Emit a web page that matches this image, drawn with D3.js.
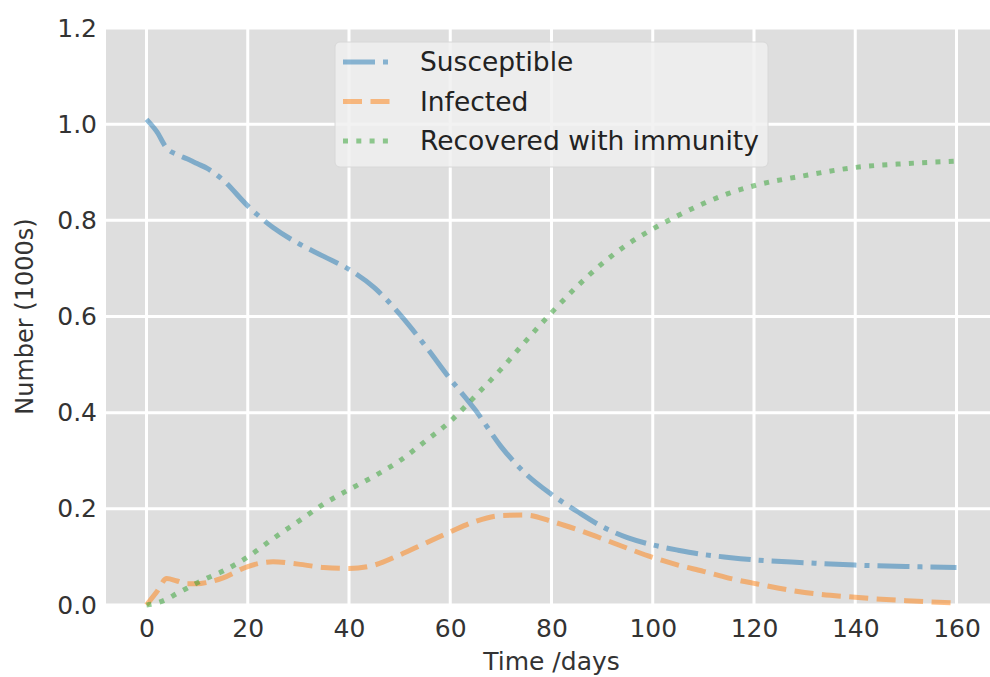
<!DOCTYPE html>
<html>
<head>
<meta charset="utf-8">
<script src="https://cdn.jsdelivr.net/npm/d3@7"></script>
<style>
  body { margin: 0; background: #fff; }
  svg { display: block; font-family: "DejaVu Sans", sans-serif; }
</style>
</head>
<body>
<svg id="chart" width="990" height="677"></svg>
<script>
// days
const days = [0, 2, 4, 6, 8, 10, 12, 15, 20, 25, 30, 35, 40, 45, 50, 55, 60, 65, 70, 75,
  80, 85, 90, 95, 100, 105, 110, 115, 120, 130, 140, 150, 160];

const susceptible = [1.01, 0.985, 0.95, 0.937, 0.928, 0.918, 0.908, 0.885, 0.83, 0.785, 0.752, 0.725,
  0.698, 0.66, 0.605, 0.54, 0.47, 0.405, 0.33, 0.272, 0.23, 0.195, 0.163, 0.14, 0.125, 0.114,
  0.105, 0.099, 0.094, 0.088, 0.083, 0.08, 0.078];

const infected = [0, 0.027, 0.055, 0.05, 0.044, 0.044, 0.047, 0.056, 0.08, 0.09, 0.085, 0.078,
  0.076, 0.083, 0.104, 0.128, 0.152, 0.174, 0.186, 0.187, 0.174, 0.157, 0.138, 0.118, 0.099,
  0.083, 0.07, 0.056, 0.045, 0.026, 0.016, 0.009, 0.004];

const recovered = [0, 0.004, 0.012, 0.024, 0.035, 0.046, 0.056, 0.07, 0.1, 0.138, 0.174, 0.21,
  0.24, 0.268, 0.3, 0.34, 0.382, 0.435, 0.49, 0.55, 0.608, 0.662, 0.71, 0.75, 0.782, 0.81,
  0.835, 0.856, 0.872, 0.893, 0.91, 0.918, 0.923];

const seriesNames = ['Susceptible', 'Infected', 'Recovered with immunity'];
const xTicks = [0, 20, 40, 60, 80, 100, 120, 140, 160];
const yTicks = [0, 0.2, 0.4, 0.6, 0.8, 1.0, 1.2];

const svg = d3.select('#chart'),
  width = +svg.attr('width'),
  height = +svg.attr('height');

const margin = {left: 106, top: 28, bottom: 72};
const plotRight = 997;   // axes run past the right edge of the picture
const plotBottom = height - margin.bottom;

const x = d3.scaleLinear().domain([-8, 168]).range([margin.left, plotRight]);
const y = d3.scaleLinear().domain([0, 1.2]).range([plotBottom, margin.top]);

svg.append('rect')
  .attr('x', margin.left).attr('y', margin.top)
  .attr('width', plotRight - margin.left).attr('height', plotBottom - margin.top)
  .attr('fill', '#dedede');

// white grid
const grid = svg.append('g').attr('class', 'grid');
grid.selectAll('line.v').data(xTicks).enter().append('line')
  .attr('x1', d => x(d)).attr('x2', d => x(d))
  .attr('y1', margin.top).attr('y2', plotBottom)
  .attr('stroke', '#fff').attr('stroke-width', 3);
grid.selectAll('line.h').data(yTicks).enter().append('line')
  .attr('x1', margin.left).attr('x2', plotRight)
  .attr('y1', d => y(d)).attr('y2', d => y(d))
  .attr('stroke', '#fff').attr('stroke-width', 3);

// tick labels via d3 axes, domain & tick lines hidden
const xAxis = svg.append('g')
  .attr('transform', `translate(0,${plotBottom})`)
  .call(d3.axisBottom(x).tickValues(xTicks).tickSize(0).tickPadding(14).tickFormat(d3.format('d')));
const yAxis = svg.append('g')
  .attr('transform', `translate(${margin.left},0)`)
  .call(d3.axisLeft(y).tickValues(yTicks).tickSize(0).tickPadding(9).tickFormat(d3.format('.1f')));
[xAxis, yAxis].forEach(a => {
  a.select('.domain').remove();
  a.selectAll('text').attr('font-size', 25).attr('fill', '#333')
    .attr('font-family', '"DejaVu Sans", sans-serif');
});

svg.append('text')
  .attr('x', (margin.left + plotRight) / 2).attr('y', 670)
  .attr('text-anchor', 'middle').attr('font-size', 25).attr('fill', '#333')
  .text('Time /days');
svg.append('text')
  .attr('transform', `translate(33,${(margin.top + plotBottom) / 2}) rotate(-90)`)
  .attr('text-anchor', 'middle').attr('font-size', 24).attr('fill', '#333')
  .text('Number (1000s)');

const styles = [
  {color: '#1f77b4', dash: '32,8,5,8'},
  {color: '#ff7f0e', dash: '19,8.5'},
  {color: '#2ca02c', dash: '5,8.3'}
];
const allSeries = [susceptible, infected, recovered];

const line = d3.line()
  .x((d, i) => x(days[i]))
  .y(d => y(d))
  .curve(d3.curveMonotoneX);

svg.append('g').selectAll('path')
  .data(allSeries).enter().append('path')
  .attr('d', line)
  .attr('fill', 'none')
  .attr('stroke', (d, i) => styles[i].color)
  .attr('stroke-opacity', 0.5)
  .attr('stroke-width', 5)
  .attr('stroke-dasharray', (d, i) => styles[i].dash);

// legend, upper centre
const legW = 433, legH = 125;
const legX = (margin.left + plotRight) / 2 - legW / 2, legY = 42;
const legend = svg.append('g').attr('transform', `translate(${legX},${legY})`);
legend.append('rect')
  .attr('width', legW).attr('height', legH).attr('rx', 5)
  .attr('fill', '#f0f0f0').attr('fill-opacity', 0.85)
  .attr('stroke', '#d8d8d8').attr('stroke-width', 1);
const rows = legend.selectAll('g.row').data(seriesNames).enter().append('g')
  .attr('transform', (d, i) => `translate(0,${20 + i * 39.5})`);
rows.append('line')
  .attr('x1', 8).attr('x2', 57).attr('y1', 0).attr('y2', 0)
  .attr('stroke', (d, i) => styles[i].color)
  .attr('stroke-opacity', 0.5)
  .attr('stroke-width', 5)
  .attr('stroke-dasharray', (d, i) => styles[i].dash);
rows.append('text')
  .attr('x', 85).attr('y', 0).attr('dy', '0.35em')
  .attr('font-size', 26.5).attr('fill', '#222')
  .text(d => d);
</script>
</body>
</html>
